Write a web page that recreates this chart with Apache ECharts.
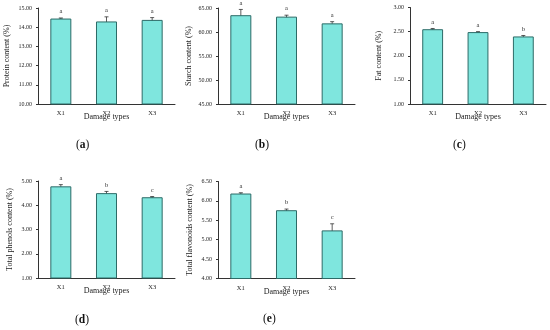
<!DOCTYPE html>
<html><head><meta charset="utf-8">
<script src="https://cdn.jsdelivr.net/npm/echarts@6/dist/echarts.min.js"></script>
<style>html,body{margin:0;padding:0;background:#fff}#c{width:550px;height:330px}</style>
</head><body><div id="c"></div>
<script>
const categories = ['X1', 'X2', 'X3'];

const proteinValues = [14.45, 14.30, 14.38];
const proteinErrors = [0.03, 0.24, 0.12];
const proteinLetters = ['a', 'a', 'a'];
const proteinTicks = [10, 15, 1];

const starchValues = [63.5, 63.2, 61.8];
const starchErrors = [1.2, 0.3, 0.35];
const starchLetters = ['a', 'a', 'a'];
const starchTicks = [45, 65, 5];

const fatValues = [2.55, 2.49, 2.40];
const fatErrors = [0.015, 0.01, 0.02];
const fatLetters = ['a', 'a', 'b'];
const fatTicks = [1, 3, 0.5];

const phenolsValues = [4.78, 4.50, 4.33];
const phenolsErrors = [0.07, 0.07, 0.03];
const phenolsLetters = ['a', 'b', 'c'];
const phenolsTicks = [1, 5, 1];

const flavonoidsValues = [6.19, 5.76, 5.24];
const flavonoidsErrors = [0.02, 0.03, 0.17];
const flavonoidsLetters = ['a', 'b', 'c'];
const flavonoidsTicks = [4, 6.5, 0.5];

const panels = [
  {name: 'Protein content (%)', v: proteinValues, e: proteinErrors, s: proteinLetters, t: proteinTicks, label: 'a',
   grid: {left: 38, top: 8, width: 137, height: 96}, lab: [83, 146], gap: 27},
  {name: 'Starch content (%)', v: starchValues, e: starchErrors, s: starchLetters, t: starchTicks, label: 'b',
   grid: {left: 218, top: 8, width: 137, height: 96}, lab: [262, 146], gap: 25},
  {name: 'Fat content (%)', v: fatValues, e: fatErrors, s: fatLetters, t: fatTicks, label: 'c',
   grid: {left: 410, top: 7.5, width: 136, height: 96.5}, lab: [460, 146], gap: 27},
  {name: 'Total phenols content (%)', v: phenolsValues, e: phenolsErrors, s: phenolsLetters, t: phenolsTicks, label: 'd',
   grid: {left: 38, top: 181, width: 137, height: 97}, lab: [82, 321], gap: 24},
  {name: 'Total flavonoids content (%)', v: flavonoidsValues, e: flavonoidsErrors, s: flavonoidsLetters, t: flavonoidsTicks, label: 'e',
   grid: {left: 218, top: 181.5, width: 137, height: 97}, lab: [270, 320], gap: 24}
];

const FONT = '"Liberation Serif", "Times New Roman", serif';
const axisColor = '#333';
const grids = [], xAxes = [], yAxes = [], series = [], graphics = [];

panels.forEach((p, i) => {
  grids.push(Object.assign({containLabel: false}, p.grid));
  xAxes.push({
    type: 'category', gridIndex: i, data: categories,
    name: 'Damage types', nameLocation: 'middle', nameGap: 9, nameMoveOverlap: false,
    nameTextStyle: {fontFamily: FONT, fontSize: 8, color: '#222'},
    axisLine: {lineStyle: {color: axisColor, width: 1}},
    axisTick: {show: false},
    axisLabel: {fontFamily: FONT, fontSize: 6.5, color: '#222', margin: 6}
  });
  yAxes.push({
    type: 'value', gridIndex: i, min: p.t[0], max: p.t[1], interval: p.t[2],
    name: p.name, nameLocation: 'middle', nameGap: p.gap, nameRotate: 90, nameMoveOverlap: false,
    nameTextStyle: {fontFamily: FONT, fontSize: 8, color: '#222'},
    axisLine: {show: true, lineStyle: {color: axisColor, width: 1}},
    axisTick: {show: true, length: 2, lineStyle: {color: axisColor}},
    splitLine: {show: false},
    axisLabel: {fontFamily: FONT, fontSize: 6, color: '#222', margin: 6,
      formatter: v => v.toFixed(2)}
  });
  series.push({
    type: 'bar', xAxisIndex: i, yAxisIndex: i, data: p.v, barWidth: '46%',
    itemStyle: {color: '#7FE6DE', borderColor: '#2C6B67', borderWidth: 1},
    silent: true, animation: false
  });
  series.push({
    type: 'custom', xAxisIndex: i, yAxisIndex: i, clip: false, animation: false, silent: true,
    data: p.v.map((v, k) => [k, v, p.e[k]]),
    renderItem: (params, api) => {
      const k = api.value(0), v = api.value(1), err = api.value(2);
      const letter = p.s[k];
      const top = api.coord([k, v + err]);
      const bot = api.coord([k, v - err]);
      const cap = 2;
      return {type: 'group', children: [
        {type: 'line', shape: {x1: top[0], y1: top[1], x2: bot[0], y2: bot[1]}, style: {stroke: '#333', lineWidth: 0.8}},
        {type: 'line', shape: {x1: top[0] - cap, y1: top[1], x2: top[0] + cap, y2: top[1]}, style: {stroke: '#333', lineWidth: 0.8}},
        {type: 'line', shape: {x1: bot[0] - cap, y1: bot[1], x2: bot[0] + cap, y2: bot[1]}, style: {stroke: '#333', lineWidth: 0.8}},
        {type: 'text', x: top[0], y: top[1] - 3, style: {text: letter, fontFamily: FONT, fontSize: 6.5, fill: '#333', align: 'center', verticalAlign: 'bottom'}}
      ]};
    }
  });
  graphics.push({
    type: 'text', left: p.lab[0] - 7, top: p.lab[1] - 7,
    style: {
      text: '{n|(}{b|' + p.label + '}{n|)}',
      rich: {
        n: {fontFamily: FONT, fontSize: 11.5, fill: '#111'},
        b: {fontFamily: FONT, fontSize: 11.5, fontWeight: 'bold', fill: '#111'}
      }
    }
  });
});

const chart = echarts.init(document.getElementById('c'), null, {renderer: 'canvas'});
chart.setOption({
  animation: false, backgroundColor: '#fff',
  grid: grids, xAxis: xAxes, yAxis: yAxes, series: series, graphic: graphics
});
</script></body></html>
